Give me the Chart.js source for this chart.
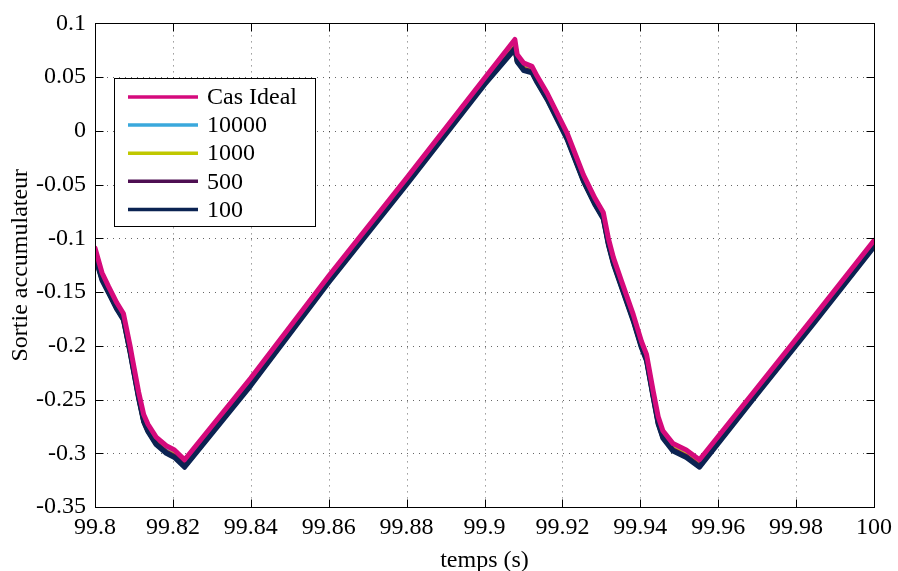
<!DOCTYPE html>
<html>
<head>
<meta charset="utf-8">
<title>Sortie accumulateur</title>
<script src="https://cdn.jsdelivr.net/npm/chart.js@4.4.1/dist/chart.umd.min.js"></script>
<style>
  html, body { margin: 0; padding: 0; background: #fff; }
  #wrap { width: 898px; height: 571px; }
</style>
</head>
<body>
<div id="wrap"><canvas id="accu" width="898" height="571"></canvas></div>
<script>
// Sortie accumulateur vs temps

// time axis (s)
const temps = [
    99.8, 99.8018, 99.8035, 99.8056, 99.8073, 99.809, 99.8096, 99.8112, 99.8125, 99.8136,
    99.8157, 99.8183, 99.8204, 99.823, 99.84, 99.86, 99.88, 99.9, 99.9078, 99.9084,
    99.9101, 99.9122, 99.9135, 99.9161, 99.9212, 99.9254, 99.9284, 99.9305, 99.9318, 99.9331,
    99.9352, 99.9382, 99.9403, 99.9416, 99.9433, 99.9446, 99.9458, 99.9484, 99.9518, 99.9552,
    99.97, 99.985, 100
];

// series values
const casIdeal = [
    -0.109, -0.132, -0.145, -0.160, -0.170, -0.200, -0.212, -0.243, -0.264, -0.273,
    -0.285, -0.293, -0.297, -0.306, -0.230, -0.135, -0.044, 0.049, 0.085, 0.071,
    0.063, 0.060, 0.051, 0.035, -0.002, -0.041, -0.063, -0.076, -0.100, -0.118,
    -0.140, -0.171, -0.196, -0.208, -0.242, -0.266, -0.279, -0.291, -0.297, -0.306,
    -0.239, -0.171, -0.102
];
const s10000 = [
    -0.115, -0.137, -0.149, -0.164, -0.174, -0.204, -0.216, -0.247, -0.269, -0.278,
    -0.290, -0.298, -0.302, -0.311, -0.235, -0.139, -0.048, 0.045, 0.078, 0.066,
    0.058, 0.056, 0.047, 0.031, -0.006, -0.045, -0.067, -0.080, -0.104, -0.122,
    -0.144, -0.175, -0.200, -0.212, -0.246, -0.271, -0.284, -0.296, -0.302, -0.311,
    -0.243, -0.175, -0.106
];
const s1000 = [
    -0.116, -0.137, -0.150, -0.164, -0.175, -0.205, -0.216, -0.247, -0.270, -0.279,
    -0.290, -0.299, -0.302, -0.312, -0.235, -0.140, -0.048, 0.044, 0.078, 0.065,
    0.058, 0.055, 0.047, 0.030, -0.006, -0.046, -0.068, -0.080, -0.104, -0.122,
    -0.144, -0.175, -0.200, -0.212, -0.246, -0.271, -0.284, -0.296, -0.302, -0.311,
    -0.243, -0.175, -0.106
];
const s500 = [
    -0.116, -0.138, -0.150, -0.165, -0.175, -0.205, -0.217, -0.248, -0.270, -0.279,
    -0.291, -0.299, -0.303, -0.312, -0.236, -0.140, -0.049, 0.044, 0.077, 0.065,
    0.057, 0.055, 0.046, 0.030, -0.007, -0.046, -0.068, -0.081, -0.105, -0.123,
    -0.145, -0.176, -0.201, -0.213, -0.247, -0.272, -0.285, -0.297, -0.303, -0.312,
    -0.244, -0.176, -0.107
];
const s100 = [
    -0.117, -0.139, -0.151, -0.166, -0.176, -0.206, -0.218, -0.249, -0.271, -0.280,
    -0.292, -0.300, -0.304, -0.313, -0.237, -0.141, -0.050, 0.043, 0.076, 0.064,
    0.056, 0.054, 0.045, 0.029, -0.008, -0.047, -0.069, -0.082, -0.106, -0.124,
    -0.146, -0.177, -0.202, -0.214, -0.248, -0.273, -0.286, -0.298, -0.304, -0.313,
    -0.245, -0.177, -0.108
];

const seriesLabels = ['Cas Ideal', '10000', '1000', '500', '100'];

// tick labels
const xTickValues = [99.8, 99.82, 99.84, 99.86, 99.88, 99.9, 99.92, 99.94, 99.96, 99.98, 100];
const xTickLabels = ['99.8', '99.82', '99.84', '99.86', '99.88', '99.9', '99.92', '99.94', '99.96', '99.98', '100'];
const yTickValues = [-0.35, -0.3, -0.25, -0.2, -0.15, -0.1, -0.05, 0, 0.05, 0.1];
const yTickLabels = ['-0.35', '-0.3', '-0.25', '-0.2', '-0.15', '-0.1', '-0.05', '0', '0.05', '0.1'];

const colors = ['#d50a7c', '#3aa8dc', '#c0c800', '#4e0f52', '#0b2352'];
const seriesValues = [casIdeal, s10000, s1000, s500, s100];
// pink on top, then 100, the others underneath
const drawOrder = [0, 4, 3, 2, 1];

const FONT = 'Liberation Serif, Times New Roman, serif';

function toPoints(values) {
    return temps.map((t, i) => ({ x: t, y: values[i] }));
}

// dotted grid, inward ticks, box and legend, MATLAB style
const matlabAxes = {
    id: 'matlabAxes',
    beforeDatasetsDraw(chart) {
        const { ctx, chartArea: a, scales: { x, y } } = chart;
        ctx.save();
        ctx.strokeStyle = 'rgba(0,0,0,0.6)';
        ctx.lineWidth = 1;
        ctx.setLineDash([1, 5]);
        xTickValues.forEach(v => {
            const px = Math.round(x.getPixelForValue(v)) + 0.5;
            if (px < a.left + 2 || px > a.right - 2) return;
            ctx.beginPath();
            ctx.moveTo(px, a.top);
            ctx.lineTo(px, a.bottom);
            ctx.stroke();
        });
        yTickValues.forEach(v => {
            const py = Math.round(y.getPixelForValue(v)) + 0.5;
            if (py < a.top + 2 || py > a.bottom - 2) return;
            ctx.beginPath();
            ctx.moveTo(a.left, py);
            ctx.lineTo(a.right, py);
            ctx.stroke();
        });
        ctx.restore();
    },
    afterDatasetsDraw(chart) {
        const { ctx, chartArea: a, scales: { x, y } } = chart;
        const L = Math.round(a.left) + 0.5, R = Math.round(a.right) + 0.5;
        const T = Math.round(a.top) + 0.5, B = Math.round(a.bottom) + 0.5;
        const tick = 8;
        ctx.save();
        ctx.strokeStyle = '#000';
        ctx.lineWidth = 1;
        ctx.setLineDash([]);
        ctx.strokeRect(L, T, R - L, B - T);
        ctx.beginPath();
        xTickValues.forEach(v => {
            const px = Math.round(x.getPixelForValue(v)) + 0.5;
            ctx.moveTo(px, B); ctx.lineTo(px, B - tick);
            ctx.moveTo(px, T); ctx.lineTo(px, T + tick);
        });
        yTickValues.forEach(v => {
            const py = Math.round(y.getPixelForValue(v)) + 0.5;
            ctx.moveTo(L, py); ctx.lineTo(L + tick, py);
            ctx.moveTo(R, py); ctx.lineTo(R - tick, py);
        });
        ctx.stroke();

        // legend
        const box = { left: 114.5, top: 78.5, width: 201, height: 148 };
        ctx.fillStyle = '#fff';
        ctx.fillRect(box.left, box.top, box.width, box.height);
        ctx.strokeRect(box.left, box.top, box.width, box.height);
        ctx.font = '24px ' + FONT;
        ctx.textBaseline = 'middle';
        ctx.textAlign = 'left';
        chart.data.datasets.forEach((ds, i) => {
            const cy = 97 + i * 28.1;
            ctx.strokeStyle = ds.borderColor;
            ctx.lineWidth = 3.5;
            ctx.beginPath();
            ctx.moveTo(128, cy);
            ctx.lineTo(198, cy);
            ctx.stroke();
            ctx.fillStyle = '#000';
            ctx.fillText(ds.label, 207, cy + 1);
        });
        ctx.restore();
    }
};

const ctx = document.getElementById('accu').getContext('2d');
const accuChart = new Chart(ctx, {
    type: 'line',
    data: {
        datasets: seriesValues.map((vals, i) => ({
            label: seriesLabels[i],
            data: toPoints(vals),
            borderColor: colors[i],
            backgroundColor: colors[i],
            borderWidth: 5,
            pointRadius: 0,
            tension: 0,
            fill: false,
            order: drawOrder[i],
            borderJoinStyle: 'round',
            borderCapStyle: 'round'
        }))
    },
    options: {
        responsive: false,
        animation: false,
        layout: { padding: { left: 0, right: 18, top: 20, bottom: 0 } },
        plugins: {
            legend: { display: false },
            tooltip: { enabled: false }
        },
        scales: {
            x: {
                type: 'linear',
                min: 99.8,
                max: 100,
                afterBuildTicks: s => { s.ticks = xTickValues.map(v => ({ value: v })); },
                afterFit: s => { s.height = 64; },
                grid: { display: false, drawTicks: false },
                border: { display: false },
                ticks: {
                    callback: (v, i) => xTickLabels[i],
                    font: { family: FONT, size: 24 },
                    color: '#000',
                    padding: 6,
                    maxRotation: 0,
                    autoSkip: false
                },
                title: {
                    display: true,
                    text: 'temps (s)',
                    font: { family: FONT, size: 24, lineHeight: 1 },
                    color: '#000',
                    padding: { top: 0, bottom: -2 }
                }
            },
            y: {
                type: 'linear',
                min: -0.35,
                max: 0.1,
                afterBuildTicks: s => { s.ticks = yTickValues.map(v => ({ value: v })); },
                afterFit: s => { s.width = 95; },
                grid: { display: false, drawTicks: false },
                border: { display: false },
                ticks: {
                    callback: (v, i) => yTickLabels[i],
                    font: { family: FONT, size: 24 },
                    color: '#000',
                    padding: 9,
                    autoSkip: false
                },
                title: {
                    display: true,
                    text: 'Sortie accumulateur',
                    font: { family: FONT, size: 24, lineHeight: 1 },
                    color: '#000',
                    padding: { top: 9, bottom: 0 }
                }
            }
        }
    },
    plugins: [matlabAxes]
});
</script>
</body>
</html>
